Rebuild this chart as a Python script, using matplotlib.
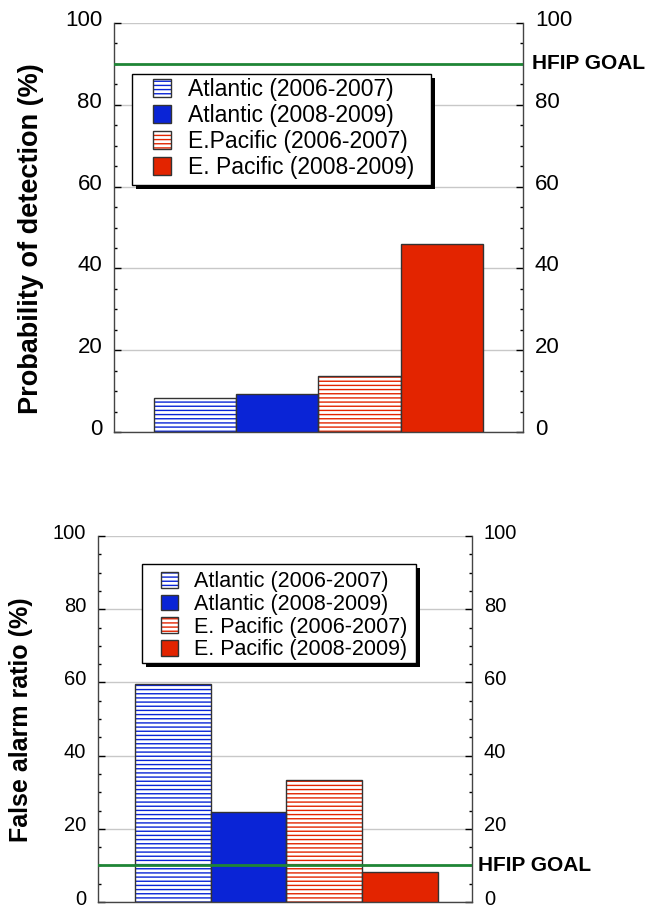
import matplotlib.pyplot as plt
import matplotlib.patches as patches
from matplotlib.ticker import MultipleLocator
from matplotlib.transforms import ScaledTranslation

plt.rcParams['font.family'] = ['Liberation Sans', 'DejaVu Sans']
plt.rcParams['hatch.linewidth'] = 1.0

# data
pod_labels = ["Atlantic (2006-2007)", "Atlantic (2008-2009)",
              "E.Pacific (2006-2007)", "E. Pacific (2008-2009)"]
far_labels = ["Atlantic (2006-2007)", "Atlantic (2008-2009)",
              "E. Pacific (2006-2007)", "E. Pacific (2008-2009)"]
pod = [8.3, 9.4, 13.8, 46.0]
far = [59.7, 24.7, 33.3, 8.2]
pod_goal = 90
far_goal = 10

BLUE = '#0a24d6'
RED = '#e32400'
bar_colors = [BLUE, BLUE, RED, RED]
hatched = [True, False, True, False]
EDGE = '#333333'
GREEN = '#1f8536'

fig = plt.figure(figsize=(6.62, 9.07), dpi=100)
ax1 = fig.add_axes([0.1722, 0.5237, 0.6178, 0.4509])
ax2 = fig.add_axes([0.1480, 0.0055, 0.5650, 0.4035])


def draw_bars(ax, values):
    handles = []
    for i, (v, c, h) in enumerate(zip(values, bar_colors, hatched)):
        if h:
            ax.bar(i, v, width=1.0, facecolor='white', edgecolor=c,
                   hatch='----', linewidth=0, zorder=2)
            ax.bar(i, v, width=1.0, fill=False, edgecolor=EDGE,
                   linewidth=1, zorder=3)
            handles.append((patches.Patch(facecolor='white', edgecolor=c,
                                          hatch='----', linewidth=0),
                            patches.Patch(fill=False, edgecolor=EDGE, linewidth=1)))
        else:
            ax.bar(i, v, width=1.0, color=c, edgecolor=EDGE,
                   linewidth=1, zorder=3)
            handles.append(patches.Patch(facecolor=c, edgecolor=EDGE, linewidth=1))
    return handles


def style_axes(ax, fs):
    ax.set_ylim(0, 100)
    ax.set_xticks([])
    ax.yaxis.set_major_locator(MultipleLocator(20))
    ax.yaxis.set_minor_locator(MultipleLocator(5))
    ax.tick_params(axis='y', which='both', direction='in', left=True,
                   right=True, labelright=True, colors='black',
                   labelsize=fs, pad=8.5)
    ax.tick_params(axis='y', which='major', length=5, width=1)
    ax.tick_params(axis='y', which='minor', length=2.5, width=1)
    ax.grid(axis='y', which='major', color='#c8c8c8', linewidth=1)
    ax.set_axisbelow(True)
    ax.spines['top'].set_visible(False)
    for s in ('left', 'right', 'bottom'):
        ax.spines[s].set_color('#444444')
        ax.spines[s].set_linewidth(1)
    # labels sit a little above their ticks in the original
    shift = ScaledTranslation(0, 5 / 100, fig.dpi_scale_trans)
    for tick in ax.yaxis.get_major_ticks():
        tick.label1.set_transform(tick.label1.get_transform() + shift)
        tick.label2.set_transform(tick.label2.get_transform() + shift)


def legend_box(ax, x0, y0, x1, y1, dx, dy):
    ax.add_patch(patches.Rectangle((x0 + dx, y0 - dy), x1 - x0, y1 - y0,
                                   transform=ax.transAxes, facecolor='black',
                                   edgecolor='none', zorder=4))
    ax.add_patch(patches.Rectangle((x0, y0), x1 - x0, y1 - y0,
                                   transform=ax.transAxes, facecolor='white',
                                   edgecolor='black', linewidth=1, zorder=4.1))


# top panel: probability of detection
h1 = draw_bars(ax1, pod)
ax1.set_xlim(-0.99, 3.99)
style_axes(ax1, 16)
ax1.axhline(pod_goal, color=GREEN, linewidth=2, zorder=4)
ax1.text(1.022, pod_goal, "HFIP GOAL", transform=ax1.get_yaxis_transform(),
         ha='left', va='center', fontsize=15, fontweight='bold')
ax1.set_ylabel("Probability of detection (%)", fontsize=19.5, fontweight='bold')
ax1.yaxis.set_label_coords(-0.170, 0.474)
legend_box(ax1, 0.044, 0.604, 0.775, 0.875, 0.0098, 0.0098)
ax1.legend(h1, pod_labels, loc='center left', bbox_to_anchor=(0.0954, 0.742),
           frameon=False, borderpad=0, borderaxespad=0, fontsize=16.5,
           handlelength=0.8, handleheight=0.78, handletextpad=0.72,
           labelspacing=0.13)

# bottom panel: false alarm ratio
h2 = draw_bars(ax2, far)
ax2.set_xlim(-0.988, 3.949)
style_axes(ax2, 14.5)
ax2.axhline(far_goal, color=GREEN, linewidth=2, zorder=4)
ax2.text(1.016, far_goal, "HFIP GOAL", transform=ax2.get_yaxis_transform(),
         ha='left', va='center', fontsize=15, fontweight='bold')
ax2.set_ylabel("False alarm ratio (%)", fontsize=18, fontweight='bold')
ax2.yaxis.set_label_coords(-0.175, 0.498)
legend_box(ax2, 0.118, 0.653, 0.850, 0.923, 0.0107, 0.011)
ax2.legend(h2, far_labels, loc='center left', bbox_to_anchor=(0.168, 0.782),
           frameon=False, borderpad=0, borderaxespad=0, fontsize=15.5,
           handlelength=0.8, handleheight=0.75, handletextpad=0.72,
           labelspacing=0.08)

plt.savefig("out.png", dpi=100)
